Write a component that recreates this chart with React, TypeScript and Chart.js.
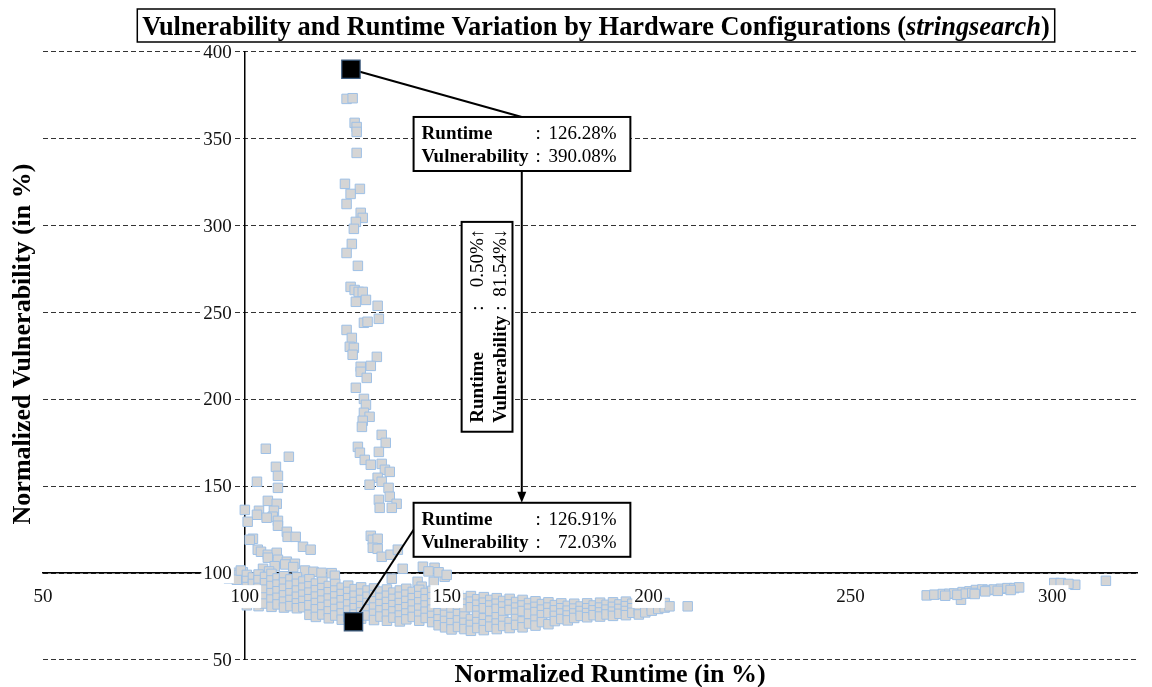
import React, { useEffect, useRef } from "react";
import { Chart, registerables } from "chart.js";

Chart.register(...registerables);

const FONT = "'Liberation Serif', 'Times New Roman', Times, serif";

// ---------- axis ranges / ticks ----------
const xRange = [50, 321];
const yRange = [50, 400];
const tickStep = 50;
const axisCross = [100, 100]; // x-axis drawn at vulnerability 100, y-axis at runtime 100

// ---------- data (Normalized Runtime %, Normalized Vulnerability %) ----------
const spikePoints: number[][] = [
  [125.2, 373.0], [126.7, 373.4], [127.2, 359.2], [127.7, 356.8], [127.7, 354.0], [127.7, 341.9],
  [124.8, 324.1], [128.5, 321.2], [126.2, 318.3], [125.2, 312.5], [128.7, 307.4], [129.2, 304.5],
  [127.5, 302.2], [127.0, 298.2], [126.5, 289.5], [125.2, 284.3], [128.0, 276.9], [126.2, 264.8],
  [127.2, 263.0], [128.2, 261.9], [129.2, 261.9], [127.5, 256.2], [130.0, 257.3], [132.9, 253.9],
  [133.2, 246.4], [129.5, 244.1], [130.4, 244.7], [125.2, 240.0], [126.5, 235.4], [126.0, 230.3],
  [127.0, 229.7], [126.7, 225.7], [132.7, 224.5], [131.2, 219.3], [128.7, 218.8], [128.7, 215.9],
  [130.2, 212.4], [127.5, 206.7], [129.5, 200.3], [130.0, 196.9], [129.5, 192.3], [130.9, 190.0],
  [129.2, 187.7], [129.0, 184.2], [133.9, 179.6], [134.9, 175.0], [128.0, 172.7], [128.5, 169.3],
  [129.7, 165.2], [133.2, 169.8], [131.2, 162.4], [133.9, 162.9], [134.7, 159.5], [135.9, 158.3],
  [132.9, 154.9], [133.9, 152.6], [135.6, 149.1], [130.9, 150.9], [135.9, 144.0], [133.2, 142.2],
  [133.4, 137.6], [137.6, 139.9], [136.4, 137.6], [131.2, 121.5], [131.7, 119.2], [132.9, 119.8],
  [131.7, 114.6], [132.9, 114.0], [133.9, 109.4], [136.1, 110.6], [137.9, 113.5], [139.1, 102.5],
  [136.4, 96.8],
];

const leftPoints: number[][] = [
  [105.2, 171.6], [110.9, 167.0], [107.7, 161.2], [108.2, 156.0], [103.0, 152.6], [108.2, 149.1],
  [105.7, 141.6], [107.9, 139.9], [100.0, 136.4], [103.5, 135.9], [103.0, 133.6], [107.2, 135.9],
  [106.9, 132.5], [105.4, 131.9], [108.2, 130.1], [108.2, 127.3], [100.7, 129.6], [110.4, 123.8],
  [110.6, 120.9], [112.6, 120.9], [102.0, 119.8], [101.2, 119.2], [114.4, 115.2], [116.3, 113.5],
  [103.2, 113.5], [104.0, 112.3], [105.7, 110.6], [107.9, 111.7], [105.7, 108.9], [108.2, 107.7],
  [110.4, 106.6], [112.4, 105.4], [107.4, 104.0], [110.0, 105.0], [112.0, 103.5], [114.9, 101.5],
  [117.0, 100.8], [119.0, 100.2], [121.5, 100.0], [122.3, 98.5], [104.5, 102.5], [106.0, 101.0],
  [95.5, 99.5], [96.5, 98.8], [97.3, 100.2], [97.8, 97.5], [98.5, 99.0], [99.2, 98.0],
  [99.5, 100.5], [96.0, 97.0], [98.0, 96.2], [99.0, 101.5],
  [144.1, 103.7], [147.0, 103.1], [149.5, 97.9], [142.8, 95.0], [143.8, 92.2], [146.8, 95.0],
  [145.5, 101.0], [148.0, 100.5], [150.0, 99.0],
];

// main band: runtime value with the vulnerability values read at that runtime
const bandColumns: [number, number[]][] = [
  [100.5, [99.0, 95.5, 92.0, 88.0, 84.5, 81.5]],
  [102.0, [97.5, 93.8, 90.2, 86.5, 83.0]],
  [103.4, [99.2, 96.0, 91.5, 87.8, 84.0, 81.0]],
  [105.0, [97.8, 94.2, 90.5, 86.0, 82.5]],
  [106.6, [99.6, 95.8, 92.6, 88.5, 84.8, 80.6]],
  [108.1, [97.0, 93.4, 89.6, 85.8, 82.0]],
  [109.7, [98.2, 94.6, 91.0, 87.2, 83.6, 80.2]],
  [111.3, [96.4, 92.8, 88.4, 84.6, 81.0]],
  [112.9, [97.6, 93.9, 90.0, 86.4, 82.6, 79.8]],
  [114.5, [95.2, 91.6, 87.6, 84.0, 80.4]],
  [116.0, [96.5, 92.4, 88.8, 85.0, 81.5, 76.0]],
  [117.6, [94.0, 90.2, 86.5, 82.8, 79.2, 74.8]],
  [119.2, [95.0, 91.4, 87.8, 84.2, 80.5, 76.2]],
  [120.8, [92.6, 89.0, 85.4, 81.8, 78.0, 74.0]],
  [122.4, [93.8, 90.0, 86.6, 83.0, 79.4, 75.6]],
  [124.0, [91.6, 88.0, 84.4, 80.6, 76.8, 73.2]],
  [125.6, [92.8, 89.2, 85.6, 82.0, 78.4, 74.8]],
  [127.2, [90.8, 87.0, 83.4, 79.8, 76.2]],
  [128.8, [91.8, 88.2, 84.6, 81.0, 77.4, 73.8]],
  [130.4, [90.0, 86.4, 82.8, 79.2, 75.6]],
  [132.0, [91.2, 87.4, 83.8, 80.2, 76.6, 73.0]],
  [133.6, [89.4, 85.8, 82.2, 78.6, 75.0]],
  [135.2, [90.6, 87.0, 83.4, 79.8, 76.2, 72.6]],
  [136.8, [88.8, 85.2, 81.6, 78.0, 74.4]],
  [138.4, [90.0, 86.4, 82.8, 79.2, 75.6, 72.2]],
  [140.0, [91.0, 87.6, 84.0, 80.4, 76.8, 73.4]],
  [141.6, [89.2, 85.6, 82.0, 78.4, 74.8]],
  [143.2, [90.4, 86.8, 83.2, 79.6, 76.0, 72.6]],
  [144.8, [88.6, 85.0, 81.4, 77.8, 74.2]],
  [146.4, [89.8, 86.2, 82.6, 79.0, 75.4, 71.8]],
  [148.0, [87.8, 84.2, 80.6, 77.0, 73.4, 70.0]],
  [149.6, [87.0, 84.0, 80.8, 76.0, 72.5, 68.8]],
  [151.2, [86.2, 83.2, 79.6, 74.8, 71.2, 67.6]],
  [152.8, [87.4, 84.4, 81.0, 76.4, 72.8, 69.0]],
  [154.4, [85.6, 82.4, 79.2, 75.0, 71.4, 67.8]],
  [156.0, [86.8, 83.6, 80.4, 73.6, 70.2, 66.8]],
  [157.6, [85.0, 81.8, 78.6, 75.4, 71.8, 68.4]],
  [159.2, [86.2, 83.0, 79.8, 74.0, 70.6, 67.2]],
  [160.8, [84.6, 81.4, 78.2, 72.6, 69.2]],
  [162.4, [85.6, 82.4, 79.4, 74.6, 71.0, 67.8]],
  [164.0, [84.0, 80.8, 77.6, 73.0, 69.6]],
  [165.6, [85.2, 82.0, 78.8, 71.8, 68.4]],
  [167.2, [83.4, 80.2, 77.2, 73.6, 70.2]],
  [168.8, [84.6, 81.4, 78.2, 72.2, 68.8]],
  [170.4, [82.8, 79.6, 76.6, 71.0]],
  [172.0, [83.8, 80.6, 77.6, 73.2, 69.8]],
  [173.6, [82.2, 79.0, 75.8, 71.8]],
  [175.2, [83.2, 80.2, 77.0, 70.6]],
  [176.8, [81.6, 78.6, 75.4, 72.4]],
  [178.4, [82.6, 79.8, 76.8, 73.6]],
  [180.0, [81.2, 78.4, 75.6, 72.8]],
  [181.6, [82.4, 79.6, 76.8, 74.2]],
  [183.2, [80.8, 78.2, 75.4]],
  [184.8, [82.6, 79.8, 77.0, 74.6]],
  [186.4, [81.4, 78.6, 75.8]],
  [188.0, [83.0, 80.2, 77.4, 75.0]],
  [189.6, [81.8, 79.0, 76.2]],
  [191.2, [83.2, 80.6, 77.8, 75.4]],
  [192.8, [82.0, 79.4, 76.6]],
  [194.4, [83.6, 81.0, 78.2, 75.8]],
  [196.0, [82.4, 79.8, 77.2]],
  [197.6, [83.8, 81.2, 78.6, 76.2]],
  [199.2, [82.6, 80.0, 77.4]],
  [200.8, [83.4, 80.8, 78.4]],
  [202.4, [82.0, 79.4]],
  [204.0, [82.8, 80.2]],
  [205.2, [80.9]],
  [209.7, [80.9]],
];

const rightPoints: number[][] = [
  [268.9, 87.2], [270.8, 87.6], [272.9, 88.0], [274.5, 88.1], [275.7, 88.3], [277.8, 89.1],
  [279.5, 89.5], [281.1, 90.3], [282.7, 90.6], [284.0, 90.3], [285.6, 90.6], [287.3, 91.0],
  [288.9, 91.4], [290.6, 91.4], [291.8, 91.8], [277.4, 84.7], [300.5, 94.3], [302.1, 94.3],
  [305.7, 93.3], [313.3, 95.6], [273.5, 87.0], [276.5, 87.5], [278.6, 88.2], [280.2, 88.6],
  [283.4, 89.5], [286.5, 89.8], [289.7, 90.3], [280.8, 88.0], [304.0, 93.8],
];

// highlighted configurations
const highlightPoints: number[][] = [
  [126.28, 390.08],
  [126.91, 72.03],
];

// ---------- texts ----------
const titleBold = "Vulnerability and Runtime Variation by Hardware Configurations (";
const titleItalic = "stringsearch";
const titleClose = ")";
const xTitle = "Normalized Runtime (in %)";
const yTitle = "Normalized Vulnerability (in %)";
const topBoxRows: string[][] = [["Runtime", "126.28%"], ["Vulnerability", "390.08%"]];
const bottomBoxRows: string[][] = [["Runtime", "126.91%"], ["Vulnerability", "72.03%"]];
const deltaRows: string[][] = [["Runtime", "0.50%\u2191"], ["Vulnerability", "81.54%\u2193"]];

// annotation boxes placed in data coordinates [left, right, top, bottom]
const topBox = [141.8, 195.5, 362.6, 331.5];
const bottomBox = [141.8, 195.5, 140.5, 109.4];
const deltaBox = [153.7, 166.3, 302.2, 181.4];
const arrowX = 168.6;
const bottomLinkY = 125.0;

function drawRows(ctx: CanvasRenderingContext2D, rows: string[][], fs: number, colonAt: number, valueEnd: number) {
  rows.forEach((r, i) => {
    const y = i * 23;
    ctx.textBaseline = "alphabetic";
    ctx.textAlign = "left";
    ctx.font = `bold ${fs}px ${FONT}`;
    ctx.fillText(r[0], 0, y);
    ctx.font = `${fs}px ${FONT}`;
    ctx.fillText(":", colonAt, y);
    ctx.textAlign = "right";
    ctx.fillText(r[1], valueEnd, y);
  });
}

const annotPlugin = {
  id: "annot",
  afterDatasetDraw(chart: any, args: any) {
    if (args.index !== 0) return;
    const { ctx } = chart;
    const X = (v: number) => chart.scales.x.getPixelForValue(v);
    const Y = (v: number) => chart.scales.y.getPixelForValue(v);
    ctx.save();
    ctx.strokeStyle = "#000";
    ctx.lineWidth = 2;
    ctx.beginPath();
    ctx.moveTo(X(highlightPoints[0][0]), Y(highlightPoints[0][1]));
    ctx.lineTo(X(arrowX), Y(topBox[2]));
    ctx.stroke();
    ctx.beginPath();
    ctx.moveTo(X(highlightPoints[1][0]), Y(highlightPoints[1][1]));
    ctx.lineTo(X(bottomBox[0]), Y(bottomLinkY));
    ctx.stroke();
    ctx.restore();
  },
  afterDatasetsDraw(chart: any) {
    // y tick labels, placed left of the y-axis (which crosses at runtime 100)
    const { ctx } = chart;
    const ys = chart.scales.y;
    const ax = chart.scales.x.getPixelForValue(axisCross[0]);
    ctx.save();
    ctx.font = `19px ${FONT}`;
    ctx.textAlign = "right";
    ctx.textBaseline = "middle";
    ys.ticks.forEach((t: any) => {
      const label = String(t.value);
      const py = ys.getPixelForValue(t.value);
      const w = ctx.measureText(label).width;
      const right = ax - 13;
      ctx.fillStyle = "#fff";
      ctx.fillRect(right - w - 2, py - 10, w + 4, 20);
      ctx.fillStyle = "#111";
      ctx.fillText(label, right, py + 1);
    });
    ctx.restore();
  },
  afterDraw(chart: any) {
    const { ctx } = chart;
    const X = (v: number) => chart.scales.x.getPixelForValue(v);
    const Y = (v: number) => chart.scales.y.getPixelForValue(v);
    ctx.save();
    ctx.fillStyle = "#000";
    ctx.strokeStyle = "#000";

    // title
    const tfs = 26.4;
    ctx.font = `bold ${tfs}px ${FONT}`;
    const w1 = ctx.measureText(titleBold).width;
    const w3 = ctx.measureText(titleClose).width;
    ctx.font = `italic bold ${tfs}px ${FONT}`;
    const w2 = ctx.measureText(titleItalic).width;
    const total = w1 + w2 + w3;
    const cx = 596;
    let tx = cx - total / 2;
    ctx.fillStyle = "#fff";
    ctx.fillRect(tx - 5, 9, total + 10, 33);
    ctx.fillStyle = "#000";
    ctx.lineWidth = 1.5;
    ctx.strokeRect(tx - 5, 9, total + 10, 33);
    ctx.textBaseline = "alphabetic";
    ctx.textAlign = "left";
    ctx.font = `bold ${tfs}px ${FONT}`;
    ctx.fillText(titleBold, tx, 35);
    tx += w1;
    ctx.font = `italic bold ${tfs}px ${FONT}`;
    ctx.fillText(titleItalic, tx, 35);
    tx += w2;
    ctx.font = `bold ${tfs}px ${FONT}`;
    ctx.fillText(titleClose, tx, 35);

    // axis titles
    ctx.font = `bold 26px ${FONT}`;
    ctx.textAlign = "center";
    ctx.fillText(xTitle, 610, 682);
    ctx.save();
    ctx.translate(30, 344);
    ctx.rotate(-Math.PI / 2);
    ctx.fillText(yTitle, 0, 0);
    ctx.restore();

    // vertical arrow between boxes
    ctx.lineWidth = 2;
    const ax = X(arrowX);
    const ay0 = Y(topBox[3]);
    const ay1 = Y(bottomBox[2]);
    ctx.beginPath();
    ctx.moveTo(ax, ay0);
    ctx.lineTo(ax, ay1 - 9);
    ctx.stroke();
    ctx.beginPath();
    ctx.moveTo(ax, ay1);
    ctx.lineTo(ax - 4.5, ay1 - 11);
    ctx.lineTo(ax + 4.5, ay1 - 11);
    ctx.closePath();
    ctx.fill();

    const box = (b: number[]) => {
      const l = X(b[0]), r = X(b[1]), t = Y(b[2]), bt = Y(b[3]);
      ctx.fillStyle = "#fff";
      ctx.fillRect(l, t, r - l, bt - t);
      ctx.fillStyle = "#000";
      ctx.lineWidth = 2;
      ctx.strokeRect(l, t, r - l, bt - t);
      return [l, t, r, bt];
    };

    const tb = box(topBox);
    ctx.save();
    ctx.translate(tb[0] + 8, tb[1] + 22);
    drawRows(ctx, topBoxRows, 19, 114, 195);
    ctx.restore();

    const bb = box(bottomBox);
    ctx.save();
    ctx.translate(bb[0] + 8, bb[1] + 22);
    drawRows(ctx, bottomBoxRows, 19, 114, 195);
    ctx.restore();

    const db = box(deltaBox);
    ctx.save();
    ctx.translate(db[0] + 21, db[3] - 9);
    ctx.rotate(-Math.PI / 2);
    ctx.fillStyle = "#000";
    drawRows(ctx, deltaRows, 19, 112, 194);
    ctx.restore();

    ctx.restore();
  },
};

export default function App() {
  const ref = useRef<HTMLCanvasElement | null>(null);
  useEffect(() => {
    if (!ref.current) return;
    const toXY = (p: number[]) => ({ x: p[0], y: p[1] });
    const grayData = [
      ...leftPoints.map(toXY),
      ...bandColumns.flatMap(([x, ys]) => ys.map((y) => ({ x, y }))),
      ...spikePoints.map(toXY),
      ...rightPoints.map(toXY),
    ];
    const tickFont = { family: FONT, size: 19 };
    const chart = new Chart(ref.current, {
      type: "scatter",
      data: {
        datasets: [
          {
            data: grayData,
            order: 2,
            pointStyle: "rect",
            pointRadius: 6.7,
            backgroundColor: "#d5d5d5",
            borderColor: "#9ec0e6",
            borderWidth: 1,
          },
          {
            data: highlightPoints.map(toXY),
            order: 1,
            pointStyle: "rect",
            pointRadius: 13,
            backgroundColor: "#000",
            borderColor: "#3e5d80",
            borderWidth: 1.2,
          },
        ],
      },
      options: {
        responsive: false,
        animation: false,
        events: [],
        devicePixelRatio: 1,
        layout: { padding: { left: 43, right: 15, top: 52, bottom: 27 } },
        plugins: { legend: { display: false }, tooltip: { enabled: false }, title: { display: false } },
        scales: {
          x: {
            type: "linear",
            min: xRange[0],
            max: xRange[1],
            position: { y: axisCross[1] },
            grid: { display: false, drawTicks: false },
            border: { display: true, color: "#000", width: 1.5 },
            ticks: {
              stepSize: tickStep,
              includeBounds: false,
              font: tickFont,
              color: "#111",
              padding: 12,
              maxRotation: 0,
              showLabelBackdrop: true,
              backdropColor: "#fff",
              backdropPadding: { left: 2, right: 2, top: 0, bottom: 0 },
              z: 1,
            },
          },
          y: {
            type: "linear",
            min: yRange[0],
            max: yRange[1],
            position: { x: axisCross[0] },
            grid: { display: true, drawTicks: false, color: "#333", lineWidth: 1.1 },
            border: { display: true, color: "#000", width: 1.5, dash: [5, 3] },
            ticks: {
              stepSize: tickStep,
              display: false,
            },
          },
        },
      } as any,
      plugins: [annotPlugin as any],
    });
    return () => chart.destroy();
  }, []);
  return (
    <div style={{ position: "absolute", left: 0, top: 0, width: 1152, height: 687, background: "#fff" }}>
      <canvas ref={ref} width={1152} height={687} style={{ display: "block" }} />
    </div>
  );
}
